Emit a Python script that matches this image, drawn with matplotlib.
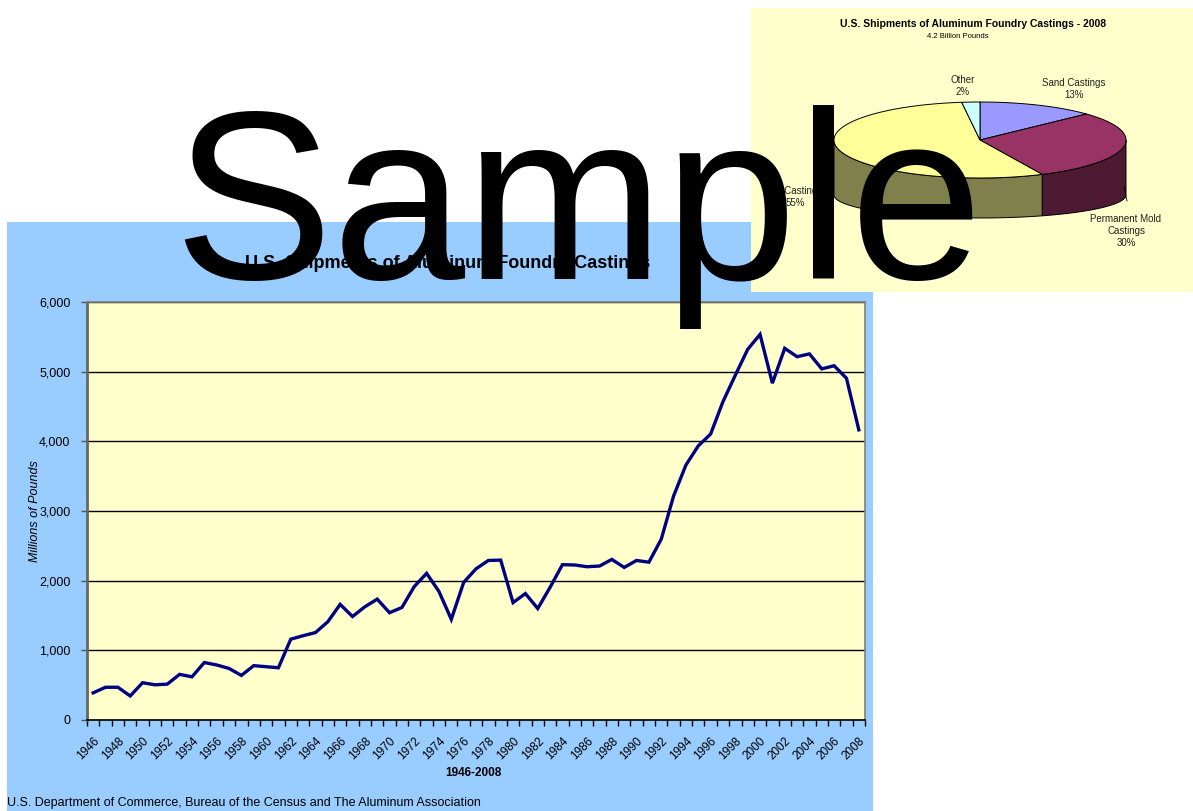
import numpy as np
import matplotlib.pyplot as plt
from matplotlib.patches import Rectangle, Polygon

plt.rcParams['font.family'] = ['Liberation Sans', 'DejaVu Sans']

# line chart data
years = list(range(1946, 2009))
shipments = [390, 470, 470, 345, 535, 505, 515, 655, 620, 825,
             790, 740, 640, 780, 765, 750, 1160, 1210, 1255, 1410,
             1660, 1485, 1625, 1735, 1540, 1615, 1915, 2105, 1845, 1445,
             1975, 2170, 2290, 2295, 1685, 1815, 1600, 1905, 2230, 2225,
             2200, 2210, 2305, 2190, 2290, 2265, 2595, 3215, 3660, 3935,
             4105, 4570, 4950, 5320, 5535, 4835, 5335, 5215, 5255, 5040,
             5085, 4905, 4165]

# pie data (2008)
pie_labels = ["Sand Castings\n13%", "Permanent Mold\nCastings\n30%",
              "Die Castings\n55%", "Other\n2%"]
pie_shares = [13, 30, 55, 2]
pie_colors = ['#9999FF', '#993366', '#FFFF99', '#CCFFFF']
side_colors = ['#4C4C80', '#4D1933', '#80804D', '#668080']

W, H = 1193, 811
fig = plt.figure(figsize=(W / 100, H / 100), dpi=100)


def fx(px):
    return px / W


def fy(py):
    return 1 - py / H


# blue chart area
fig.patches.append(Rectangle((fx(7), 0), fx(873) - fx(7), fy(222), transform=fig.transFigure,
                             facecolor='#99CCFF', edgecolor='none', zorder=-5))

ax = fig.add_axes([fx(87), fy(720), fx(865) - fx(87), fy(302) - fy(720)])
ax.set_facecolor('#FFFFCC')
x = np.arange(len(years))
ax.plot(x, shipments, color='#000080', lw=2.4, solid_joinstyle='miter', zorder=3)
ax.set_xlim(-0.5, len(years) - 0.5)
ax.set_ylim(0, 6000)
ax.set_yticks(range(0, 6001, 1000))
ax.set_yticklabels([f"{v:,}" for v in range(0, 6001, 1000)], fontsize=9)
ax.yaxis.grid(True, color='black', lw=1)
ax.set_axisbelow(True)
ax.tick_params(axis='y', length=4, width=1, color='#555555', pad=8)

ax.set_xticks(np.arange(-0.5, len(years)))
ax.set_xticklabels([])
ax.tick_params(axis='x', which='major', length=4, width=1, color='black')
ax.set_xticks(x[::2], minor=True)
ax.set_xticklabels([str(y) for y in years[::2]], minor=True, rotation=45,
                   ha='right', va='top', rotation_mode='anchor', fontsize=8.5)
ax.tick_params(axis='x', which='minor', length=0, pad=11)

ax.spines['left'].set_color('#666666')
ax.spines['left'].set_linewidth(2)
ax.spines['bottom'].set_color('black')
ax.spines['bottom'].set_linewidth(1.2)
for s in ['top', 'right']:
    ax.spines[s].set_color('#808080')
    ax.spines[s].set_linewidth(1.2)

fig.text(fx(35), fy(511), "Millions of Pounds", rotation=90, style='italic',
         fontsize=9, ha='center', va='center')
fig.text(fx(448), fy(263), "U.S. Shipments of Aluminum Foundry Castings",
         fontsize=13, fontweight='bold', ha='center', va='center')
fig.text(fx(473), fy(773), "1946-2008", fontsize=8.5, fontweight='bold',
         ha='center', va='center')
fig.text(fx(7), fy(803), "U.S. Department of Commerce, Bureau of the Census and The Aluminum Association",
         fontsize=9, ha='left', va='center')

# 3D pie panel
pax = fig.add_axes([fx(751), fy(292), 1 - fx(751), fy(8) - fy(292)])
pax.set_facecolor('#FFFFCC')
pax.set_xlim(751, W)
pax.set_ylim(292, 8)
pax.set_xticks([])
pax.set_yticks([])
for s in pax.spines.values():
    s.set_visible(False)

# top ellipse and (flatter, lower) bottom ellipse
cx, cy, rx, ry = 980, 140, 146, 38
cyb, ryb = 195, 23


def ell(t):
    return np.column_stack([cx + rx * np.cos(t), cy - ry * np.sin(t)])


def ell_bottom(t):
    return np.column_stack([cx + rx * np.cos(t), cyb - ryb * np.sin(t)])


start = 90.0
bounds = []
for share in pie_shares:
    end = start - share * 3.6
    bounds.append((start, end))
    start = end

for (a1, a2), sc in zip(bounds, side_colors):
    t = np.radians(np.linspace(a2, a1, 300))
    tt = t[np.sin(t) <= 1e-9]
    if len(tt) > 1:
        pts = np.vstack([ell(tt), ell_bottom(tt[::-1])])
        pax.add_patch(Polygon(pts, closed=True, facecolor=sc, edgecolor='black', lw=0.7, zorder=1))

for (a1, a2), c in zip(bounds, pie_colors):
    t = np.radians(np.linspace(a1, a2, 200))
    pts = np.vstack([[cx, cy], ell(t)])
    pax.add_patch(Polygon(pts, closed=True, facecolor=c, edgecolor='black', lw=0.7, zorder=2))

pax.plot([1124, 1127], [187, 201], color='black', lw=0.6)

fig.text(fx(973), fy(24), "U.S. Shipments of Aluminum Foundry Castings - 2008",
         fontsize=7.5, fontweight='bold', ha='center', va='center')
fig.text(fx(958), fy(37), "4.2 Billion Pounds", fontsize=5.5, ha='center', va='center')
label_pos = [(1074, 89), (1126, 231), (795, 197), (963, 86)]
for lab, (lx, ly) in zip(pie_labels, label_pos):
    fig.text(fx(lx), fy(ly), lab, fontsize=7, ha='center', va='center',
             linespacing=1.2, color='#222222')

fig.text(fx(173), fy(279), "Sample", fontsize=172, ha='left', va='baseline',
         color='black', zorder=10)

fig.savefig("out.png", dpi=100)
